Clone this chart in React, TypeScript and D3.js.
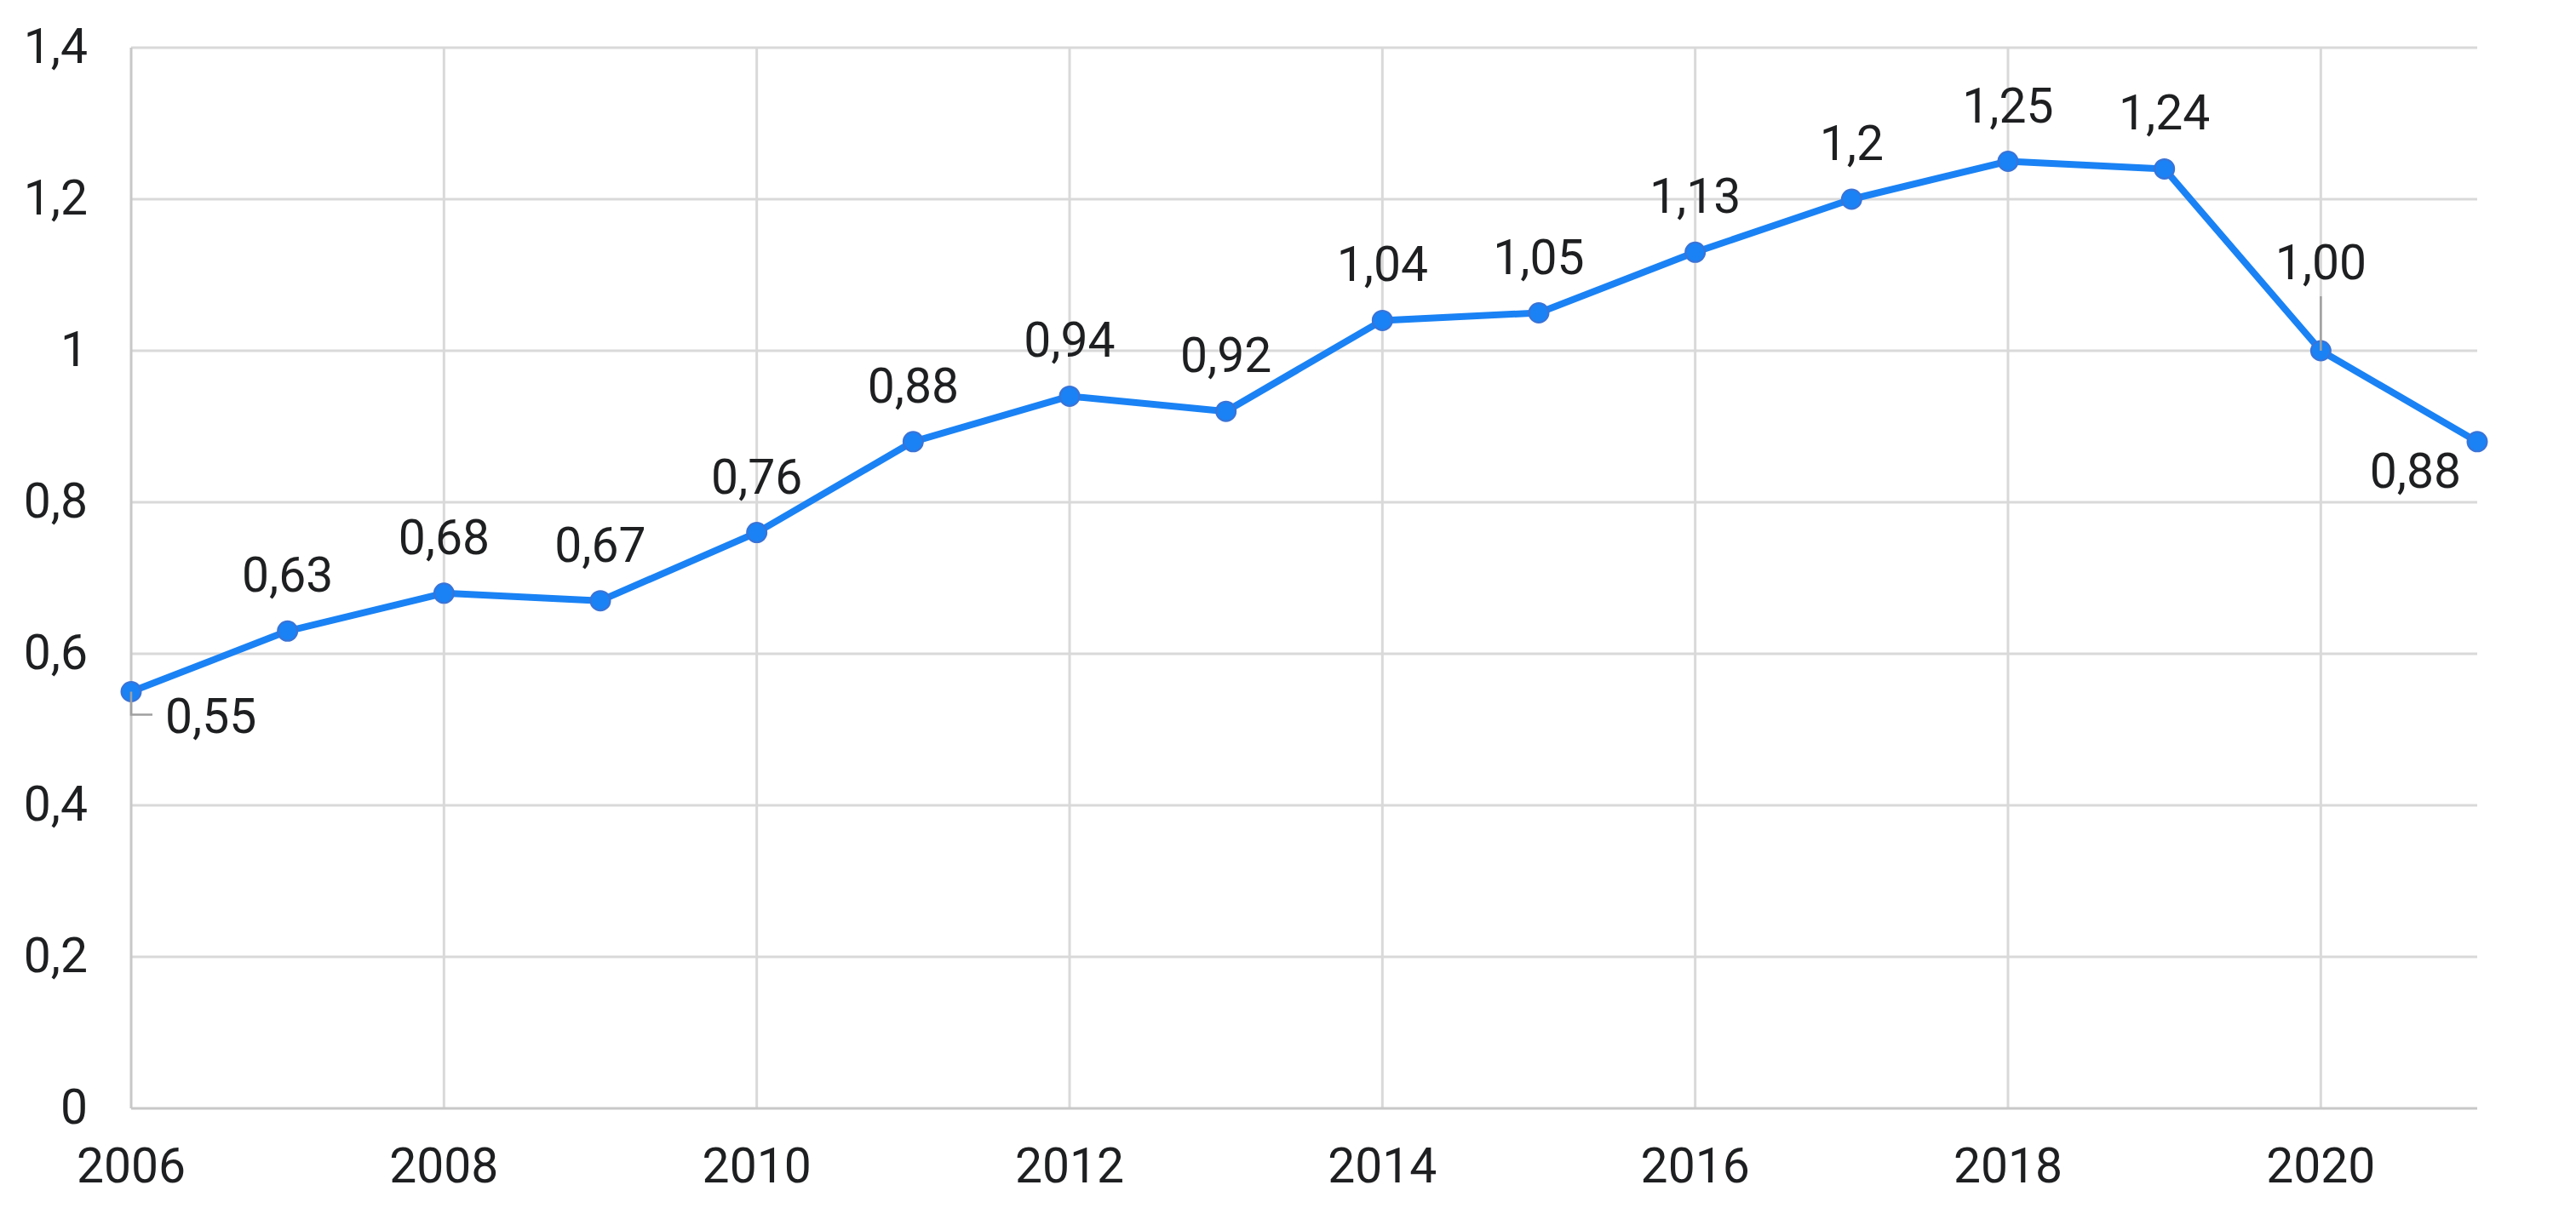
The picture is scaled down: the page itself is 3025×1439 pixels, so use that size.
import React from "react";
import * as d3 from "d3";

const years = [2006, 2007, 2008, 2009, 2010, 2011, 2012, 2013, 2014, 2015, 2016, 2017, 2018, 2019, 2020, 2021];
const values = [0.55, 0.63, 0.68, 0.67, 0.76, 0.88, 0.94, 0.92, 1.04, 1.05, 1.13, 1.2, 1.25, 1.24, 1.0, 0.88];
const labels = ["0,55", "0,63", "0,68", "0,67", "0,76", "0,88", "0,94", "0,92", "1,04", "1,05", "1,13", "1,2", "1,25", "1,24", "1,00", "0,88"];
const yTicks = [0, 0.2, 0.4, 0.6, 0.8, 1, 1.2, 1.4];
const yTickLabels = ["0", "0,2", "0,4", "0,6", "0,8", "1", "1,2", "1,4"];
const xTicks = [2006, 2008, 2010, 2012, 2014, 2016, 2018, 2020];

const W = 3025;
const H = 1439;
const left = 154;
const right = 2909;
const top = 56;
const bottom = 1302;
const FONT = "Roboto, 'Noto Sans', sans-serif";
const FS = 57;
const BLUE = "#1a82f4";
const TEXT = "#1e1f21";

export default function App() {
  const x = d3.scaleLinear().domain([2006, 2021]).range([left, right]);
  const y = d3.scaleLinear().domain([0, 1.4]).range([bottom, top]);
  const line = d3
    .line<number>()
    .x((_, i) => x(years[i]))
    .y((d) => y(d));

  return (
    <svg
      width={W}
      height={H}
      style={{ position: "absolute", left: 0, top: 0, background: "#fff" }}
      fontFamily={FONT}
    >
      <rect x={0} y={0} width={W} height={H} fill="#fff" />
      {yTicks.map((t) =>
        t === 0 ? null : (
          <line key={"h" + t} x1={left} x2={right} y1={y(t)} y2={y(t)} stroke="#d9d9d9" strokeWidth={3} />
        )
      )}
      {xTicks.map((t) =>
        t === 2006 ? null : (
          <line key={"v" + t} x1={x(t)} x2={x(t)} y1={top} y2={bottom} stroke="#d9d9d9" strokeWidth={3} />
        )
      )}
      <line x1={left} x2={left} y1={top} y2={bottom} stroke="#c8c8c8" strokeWidth={3} />
      <line x1={left} x2={right} y1={bottom} y2={bottom} stroke="#c8c8c8" strokeWidth={3} />

      {yTicks.map((t, i) => (
        <text key={"yl" + t} x={103} y={y(t) + 18} textAnchor="end" fontSize={FS} fill={TEXT}>
          {yTickLabels[i]}
        </text>
      ))}
      {xTicks.map((t) => (
        <text key={"xl" + t} x={x(t)} y={bottom + 87} textAnchor="middle" fontSize={FS} fill={TEXT}>
          {t}
        </text>
      ))}

      <path d={line(values) || ""} fill="none" stroke={BLUE} strokeWidth={8} strokeLinejoin="round" />
      {values.map((v, i) => (
        <circle key={"p" + i} cx={x(years[i])} cy={y(v)} r={11.5} fill={BLUE} stroke="#3b73d6" strokeWidth={2} />
      ))}

      <polyline
        points={`${x(2006)},${y(0.55)} ${x(2006)},${y(0.55) + 27} ${x(2006) + 25},${y(0.55) + 27}`}
        fill="none"
        stroke="#a0a0a0"
        strokeWidth={2.5}
      />
      <line x1={x(2020)} x2={x(2020)} y1={y(1.0)} y2={y(1.0) - 64} stroke="#a0a0a0" strokeWidth={2.5} />

      {values.map((v, i) => {
        let lx = x(years[i]);
        let ly = y(v) - 46;
        let anchor: "middle" | "start" | "end" = "middle";
        if (i === 0) {
          lx = x(years[i]) + 40;
          ly = y(v) + 48;
          anchor = "start";
        } else if (i === 14) {
          ly = y(v) - 84;
        } else if (i === values.length - 1) {
          lx = x(years[i]) - 19;
          ly = y(v) + 54;
          anchor = "end";
        }
        return (
          <text key={"dl" + i} x={lx} y={ly} textAnchor={anchor} fontSize={FS} fill={TEXT}>
            {labels[i]}
          </text>
        );
      })}
    </svg>
  );
}
